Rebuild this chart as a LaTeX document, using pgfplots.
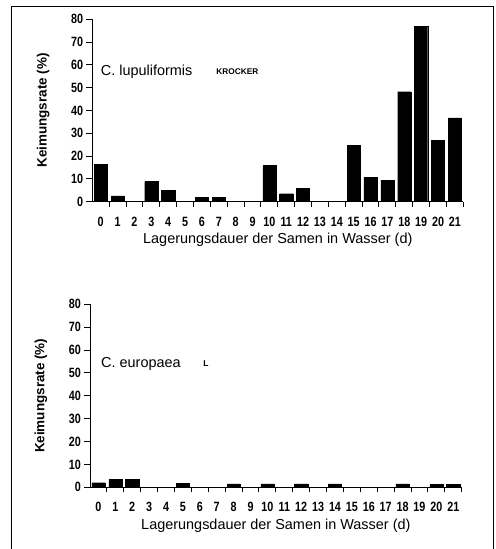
\documentclass[border=0pt]{standalone}
\usepackage{fontspec}
\setmainfont{Liberation Sans}
\newfontfamily\tickfont[FakeStretch=0.8]{Liberation Sans}
\usepackage{pgfplots}
\pgfplotsset{compat=1.18}
\pgfplotsset{
  kstyle/.style={
    scale only axis,
    width=371bp, height=182.5bp,
    xmin=-0.5, xmax=21.5, ymin=0, ymax=80,
    axis lines*=left,
    axis line style={line width=1bp},
    tick align=outside, tick pos=left,
    xtick={0,...,21},
    minor xtick={0.5,1.5,...,21.5},
    ytick={0,10,...,80},
    major tick length=6bp, minor tick length=5bp,
    major x tick style={draw=none},
    minor x tick style={line width=1bp, black},
    ytick style={line width=1bp, black},
    /pgf/number format/assume math mode=true,
    ticklabel style={font=\tickfont\bfseries\fontsize{13.5}{13.5}\selectfont},
    yticklabel style={inner sep=1bp, xshift=-2bp},
    xticklabel style={anchor=center, yshift=-14bp},
    every axis x label/.style={at={(axis description cs:0.5,0)}, yshift=-38.5bp, anchor=center, font=\fontsize{14.5}{15}\selectfont},
    every axis y label/.style={at={(axis description cs:0,0.5)}, xshift=-49bp, rotate=90, anchor=center, font=\bfseries\fontsize{13.5}{14}\selectfont},
    xlabel={Lagerungsdauer der Samen in Wasser (d)},
    ylabel={Keimungsrate (\%)},
    clip=false,
  }
}
\pgfplotstableread{
x y
0 16.4
1 2.5
2 0
3 8.8
4 5.0
5 0
6 1.9
7 1.75
8 0
9 0
10 15.8
11 3.5
12 5.8
13 0
14 0
15 24.6
16 10.7
17 9.4
18 48.2
19 76.8
20 26.9
21 36.7
}\lupuliformis
\pgfplotstableread{
x y
0 2.0
1 3.6
2 3.6
3 0
4 0
5 1.8
6 0
7 0
8 1.5
9 0
10 1.5
11 0
12 1.5
13 0
14 1.5
15 0
16 0
17 0
18 1.5
19 0
20 1.3
21 1.3
}\europaea
\begin{document}
\begin{tikzpicture}[x=1bp,y=1bp]
\useasboundingbox (0,0) rectangle (496,549);
\draw[line width=1bp] (11,0) -- (11,542) -- (493,542) -- (493,0);
\begin{axis}[kstyle, at={(92.3bp,347.3bp)}, anchor=south west]
\addplot[ybar, bar width=0.78, fill=black, draw=black] table[x=x,y=y] {\lupuliformis};
\node[anchor=west, font=\fontsize{14.5}{15}\selectfont, inner sep=0] at (axis cs:0.0,56.8) {C. lupuliformis};
\node[anchor=west, font=\bfseries\fontsize{8.3}{9}\selectfont, inner sep=0] at (axis cs:6.85,56.8) {KROCKER};
\end{axis}
\begin{axis}[kstyle, at={(90bp,61.7bp)}, anchor=south west, width=371.7bp, height=183bp]
\addplot[ybar, bar width=0.78, fill=black, draw=black] table[x=x,y=y] {\europaea};
\node[anchor=west, font=\fontsize{14.5}{15}\selectfont, inner sep=0] at (axis cs:0.15,54) {C. europaea};
\node[anchor=west, font=\bfseries\fontsize{8.5}{9}\selectfont, inner sep=0] at (axis cs:6.2,54) {L};
\end{axis}
\end{tikzpicture}
\end{document}
